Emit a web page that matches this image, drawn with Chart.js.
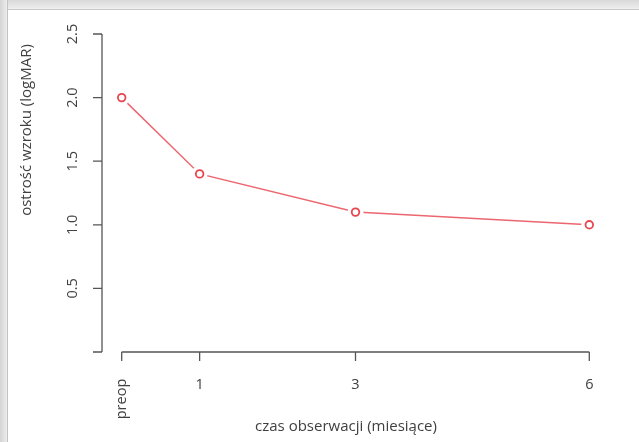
<!DOCTYPE html>
<html>
<head>
<meta charset="utf-8">
<script src="https://cdn.jsdelivr.net/npm/chart.js@4.4.0/dist/chart.umd.min.js"></script>
<style>
  html, body { margin: 0; padding: 0; background: #fff; }
  #ramka {
    position: relative;
    width: 639px; height: 442px;
    background: linear-gradient(to right, #d4d4d4, #ececec 7px, #9a9a9a 8px, transparent 8.5px),
                linear-gradient(to bottom, #d8d8d8, #efefef 9px, #a0a0a0 10px, #fff 10.5px);
  }
  #wykres { position: absolute; left: 0; top: 0; }
</style>
</head>
<body>
<div id="ramka"><canvas id="wykres" width="639" height="442"></canvas></div>
<script>
const miesiace = [0, 1, 3, 6];
const etykietyX = ["preop", "1", "3", "6"];
const logMAR = [2.0, 1.4, 1.1, 1.0];
const tickiY = [0, 0.5, 1.0, 1.5, 2.0, 2.5];
const etykietyY = ["", "0.5", "1.0", "1.5", "2.0", "2.5"];

const punkty = miesiace.map((m, i) => ({ x: m, y: logMAR[i] }));
const czcionka = "14.5px 'Open Sans', sans-serif";
const czcionkaTytul = "15px 'Open Sans', sans-serif";
const kolorTekstu = "#404040";
const kolorOsi = "#555";

// osie w stylu R: linia tylko od pierwszego do ostatniego ticka
const osieR = {
  id: "osieR",
  afterDraw(chart) {
    const ctx = chart.ctx;
    const sx = chart.scales.x;
    const sy = chart.scales.y;
    const area = chart.chartArea;
    ctx.save();
    ctx.strokeStyle = kolorOsi;
    ctx.lineWidth = 1.3;
    ctx.fillStyle = kolorTekstu;
    ctx.font = czcionka;

    // os Y
    const xo = area.left - 1;
    ctx.beginPath();
    ctx.moveTo(xo, sy.getPixelForValue(tickiY[0]));
    ctx.lineTo(xo, sy.getPixelForValue(tickiY[tickiY.length - 1]));
    tickiY.forEach(v => {
      const p = sy.getPixelForValue(v);
      ctx.moveTo(xo, p);
      ctx.lineTo(xo - 9, p);
    });
    ctx.stroke();
    tickiY.forEach((v, i) => {
      const p = sy.getPixelForValue(v);
      ctx.save();
      ctx.translate(73, p);
      ctx.rotate(-Math.PI / 2);
      ctx.textAlign = "center";
      ctx.textBaseline = "middle";
      ctx.fillText(etykietyY[i], 0, 0);
      ctx.restore();
    });

    // os X
    const yo = area.bottom;
    ctx.beginPath();
    ctx.moveTo(sx.getPixelForValue(miesiace[0]), yo);
    ctx.lineTo(sx.getPixelForValue(miesiace[miesiace.length - 1]), yo);
    miesiace.forEach(m => {
      const p = sx.getPixelForValue(m);
      ctx.moveTo(p, yo);
      ctx.lineTo(p, yo + 9);
    });
    ctx.stroke();
    miesiace.forEach((m, i) => {
      const p = sx.getPixelForValue(m);
      ctx.save();
      ctx.textAlign = "center";
      ctx.textBaseline = "middle";
      if (i === 0) {
        ctx.translate(p, 399);
        ctx.rotate(-Math.PI / 2);
        ctx.fillText(etykietyX[i], 0, 0);
      } else {
        ctx.fillText(etykietyX[i], p, 385);
      }
      ctx.restore();
    });

    // tytuly osi
    ctx.font = czcionkaTytul;
    ctx.textAlign = "center";
    ctx.textBaseline = "middle";
    ctx.fillText("czas obserwacji (miesiące)", 346, 427);
    ctx.save();
    ctx.translate(27, 130);
    ctx.rotate(-Math.PI / 2);
    ctx.fillText("ostrość wzroku (logMAR)", 0, 0);
    ctx.restore();
    ctx.restore();
  }
};

new Chart(document.getElementById("wykres"), {
  type: "scatter",
  data: {
    datasets: [
      {
        // linia
        data: punkty,
        showLine: true,
        borderColor: "#ec6670",
        borderWidth: 1.5,
        pointRadius: 0,
        order: 3
      },
      {
        // przerwa wokol punktow (type = "b")
        data: punkty,
        showLine: false,
        pointRadius: 8,
        pointBackgroundColor: "#fff",
        pointBorderWidth: 0,
        order: 2
      },
      {
        data: punkty,
        showLine: false,
        pointRadius: 3.8,
        pointBackgroundColor: "#fff",
        pointBorderColor: "#e8454f",
        pointBorderWidth: 1.8,
        order: 1
      }
    ]
  },
  options: {
    responsive: false,
    animation: false,
    events: [],
    layout: { padding: { left: 103, right: 31, top: 34, bottom: 90 } },
    plugins: { legend: { display: false }, tooltip: { enabled: false } },
    scales: {
      x: { type: "linear", min: -0.24, max: 6.24, display: false },
      y: { type: "linear", min: 0, max: 2.5, display: false }
    }
  },
  plugins: [osieR]
});
</script>
</body>
</html>
